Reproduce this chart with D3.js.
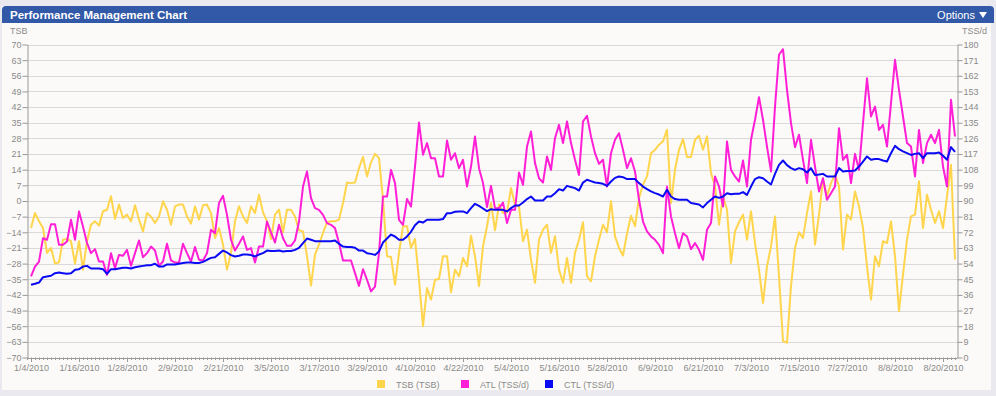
<!DOCTYPE html>
<html>
<head>
<meta charset="utf-8">
<script src="https://cdn.jsdelivr.net/npm/d3@7"></script>
<style>
  html, body { margin: 0; padding: 0; background: #e9e9ef; }
  svg { display: block; font-family: "Liberation Sans", Arial, sans-serif; }
</style>
</head>
<body>
<div class="chart"></div>
<script>
// daily values starting 1/4/2010
var startDay = "2010-01-04";
var tickLabels = ["1/4/2010","1/16/2010","1/28/2010","2/9/2010","2/21/2010","3/5/2010","3/17/2010","3/29/2010","4/10/2010","4/22/2010","5/4/2010","5/16/2010","5/28/2010","6/9/2010","6/21/2010","7/3/2010","7/15/2010","7/27/2010","8/8/2010","8/20/2010"];
var leftTicks = d3.range(-70, 71, 7);
var rightTicks = d3.range(0, 181, 9);

var seriesNames = ["TSB (TSB)", "ATL (TSS/d)", "CTL (TSS/d)"];

var tsb = [-12.1,-5.4,-9.1,-12.1,-23.2,-21.0,-28.0,-27.4,-17.3,-17.0,-18.0,-28.0,-18.0,-30.7,-18.0,-10.6,-9.1,-11.0,-4.6,-3.9,
  2.1,-8.0,-1.6,-7.6,-6.1,-9.1,-1.9,-8.3,-13.6,-5.4,-6.9,-9.8,-6.9,-0.1,-3.9,-10.6,-2.4,-1.6,-1.6,-6.9,
  -10.1,-2.4,-8.3,-1.9,-1.6,-5.4,-16.5,-12.1,-19.5,-30.7,-23.2,-9.1,-2.4,-6.9,-9.8,-2.4,-5.4,2.8,-5.1,-9.1,
  -17.0,-6.1,-3.9,-14.0,-3.9,-3.9,-6.9,-13.1,-13.6,-24.7,-37.8,-24.0,-19.5,-14.3,-9.5,-9.1,-9.1,-8.3,-0.9,8.3,
  8.0,8.3,14.7,19.7,11.0,17.3,21.1,19.2,0.6,-24.7,-25.0,-37.4,-23.2,-11.3,-11.3,-21.0,-17.0,-35.2,-56.0,-38.9,
  -44.1,-35.2,-34.9,-24.7,-24.7,-40.8,-30.7,-33.7,-25.5,-29.2,-15.5,-24.7,-38.1,-20.3,-11.3,-0.9,-13.1,-1.6,-5.4,-5.1,
  5.8,-1.6,-2.4,-18.0,-12.8,-26.2,-36.6,-17.3,-12.8,-10.6,-23.2,-15.8,-30.7,-36.6,-25.5,-36.6,-23.2,-17.3,-9.5,-33.7,
  -35.9,-24.7,-17.3,-10.6,-14.0,-0.1,-15.8,-21.0,-24.4,-14.6,-6.6,-11.3,1.3,7.3,11.0,21.4,22.9,25.2,26.7,31.9,
  -0.9,14.0,22.9,27.7,19.7,19.7,27.4,29.2,22.9,28.9,12.5,6.6,-10.6,2.1,-3.9,-27.7,-13.6,-9.5,-6.1,-17.3,
  -4.6,-18.8,-30.7,-45.6,-29.2,-20.3,-6.9,-33.7,-62.7,-63.4,-38.1,-21.0,-14.0,-16.5,-5.4,4.3,-19.5,-6.1,9.5,2.1,
  8.0,11.8,6.6,-21.7,-6.1,-8.3,4.3,-2.4,-12.1,-29.2,-44.1,-24.7,-29.2,-18.0,-18.8,-9.1,-24.7,-49.3,-32.9,-17.3,
  -6.9,-6.1,8.8,-12.1,2.8,-3.9,-9.8,-4.6,-12.1,2.1,16.2,-26.2];

var atl = [46.6,52.3,55.2,68.6,67.7,76.7,76.7,64.8,64.8,66.7,79.2,67.7,84.0,75.3,65.8,60.0,62.3,55.2,55.2,47.5,
  60.0,51.4,59.0,58.5,61.9,52.7,60.0,67.3,57.7,60.0,63.8,61.5,52.7,55.2,65.4,55.8,54.6,54.6,65.4,60.0,
  55.2,63.5,56.2,55.8,60.0,73.4,71.5,88.8,93.0,82.0,67.7,61.5,65.4,69.6,61.9,62.9,54.6,63.8,63.8,78.2,
  71.9,66.1,76.3,68.6,64.2,64.2,67.3,78.2,98.3,107.0,91.6,85.9,84.9,82.0,77.3,76.3,74.4,65.8,55.8,55.8,
  55.8,48.5,41.2,50.8,44.7,38.0,40.8,60.0,92.6,92.6,107.9,100.3,79.2,76.3,91.1,86.8,109.8,135.1,116.6,123.3,
  114.6,114.6,104.1,104.1,124.8,113.7,117.5,108.9,113.7,98.3,109.8,127.1,108.9,100.3,86.5,98.7,85.9,85.9,89.1,77.3,
  84.9,84.9,106.4,99.3,121.3,130.0,111.8,103.1,100.6,115.6,107.9,126.1,133.8,123.3,135.7,123.3,113.7,105.0,135.7,139.0,
  127.1,117.5,111.4,113.7,98.3,117.5,125.2,129.0,119.4,108.9,114.6,107.0,90.7,78.2,72.5,69.6,67.7,64.8,60.0,98.3,
  81.1,71.5,62.9,71.5,69.6,62.3,65.8,61.9,56.2,73.4,77.3,104.1,98.3,86.8,124.2,107.9,104.1,101.2,113.3,98.3,
  125.2,136.7,149.7,136.7,121.3,107.0,144.3,174.1,177.3,153.9,134.8,121.0,128.1,113.7,100.3,125.2,109.8,95.5,103.1,90.7,
  94.5,98.3,131.9,113.7,116.6,100.3,117.1,107.9,134.8,160.6,138.6,144.3,130.9,133.8,121.3,146.3,171.2,153.9,138.6,123.3,
  121.3,104.1,130.9,111.8,123.3,128.1,123.3,130.9,109.8,98.3,148.2,127.1];

var ctl = [41.8,42.4,43.1,46.2,46.6,47.0,48.5,48.9,48.5,48.1,48.5,50.4,50.8,52.3,52.7,51.2,51.2,51.2,50.8,48.1,
  50.8,50.8,51.2,51.6,51.6,51.2,51.9,52.3,52.7,53.1,53.1,53.9,52.3,52.3,53.5,53.5,53.5,53.9,54.3,54.6,
  54.6,54.3,54.3,55.0,56.2,57.3,57.7,59.6,61.5,60.4,58.9,58.1,58.5,59.2,59.2,58.9,58.1,59.2,60.0,61.5,
  61.2,61.2,61.5,61.0,61.2,61.2,61.9,63.1,65.8,68.4,67.7,66.9,66.9,66.9,66.9,66.9,67.3,65.4,63.8,63.5,
  63.5,63.1,61.5,61.5,60.0,59.6,59.0,61.0,66.1,68.4,70.7,69.6,67.7,67.7,69.6,72.3,76.1,78.2,77.6,79.2,
  79.2,79.2,79.2,79.6,83.0,83.0,83.8,84.0,84.0,83.0,85.9,88.4,87.2,85.7,84.2,85.3,84.9,84.9,84.9,84.0,
  85.9,87.4,87.4,89.1,91.1,92.6,90.3,90.3,90.3,92.6,92.6,94.5,96.8,96.0,98.7,98.0,97.4,96.0,100.6,102.2,
  101.4,100.6,100.3,99.9,98.7,101.2,103.3,104.1,103.7,102.6,102.6,102.6,100.3,98.3,96.8,95.5,94.5,93.7,92.6,96.4,
  92.6,91.1,90.7,90.7,90.7,88.8,88.4,88.0,86.3,88.8,90.7,92.6,91.8,92.6,94.5,93.9,94.1,94.1,95.1,93.5,
  98.3,102.6,103.7,103.1,101.2,99.5,105.6,110.8,113.3,110.6,108.9,107.9,108.9,108.3,106.4,108.9,105.0,105.2,105.6,104.1,
  104.1,104.1,108.9,107.0,107.2,107.3,107.5,109.8,112.7,115.6,113.7,114.1,114.1,113.3,112.7,117.5,121.7,119.8,118.5,117.5,
  116.5,117.1,117.5,114.6,117.5,117.5,117.5,117.9,116.0,113.7,121.0,118.3];

var colors = ["#ffd54d", "#ff1fd6", "#0a0af5"];

var W = 996, H = 396;
var plot = {left: 27, right: 957, top: 44.5, bottom: 357.5};

var parseDay = d3.utcParse("%Y-%m-%d");
var parseTick = d3.utcParse("%m/%d/%Y");
var day0 = parseDay(startDay);
var dayAt = (i) => d3.utcDay.offset(day0, i);

var x = d3.scaleUtc()
  .domain([d3.utcDay.offset(day0, -1), d3.utcHour.offset(d3.utcDay.offset(day0, 231), 12)])
  .range([plot.left, plot.right]);
var yL = d3.scaleLinear().domain([-70, 70]).range([plot.bottom, plot.top]);
var yR = d3.scaleLinear().domain([0, 180]).range([plot.bottom, plot.top]);

var svg = d3.select(".chart").append("svg").attr("width", W).attr("height", H);

// panel + header
svg.append("rect").attr("x", 2).attr("y", 6).attr("width", 989).attr("height", 384).attr("fill", "#fbfaf8");
svg.append("path")
  .attr("d", "M2,23 L2,10 Q2,6 6,6 L990,6 Q994,6 994,10 L994,23 Z")
  .attr("fill", "#3159a7");
svg.append("text").attr("x", 10).attr("y", 19).attr("fill", "#fff")
  .attr("font-size", 11.5).attr("font-weight", "bold").text("Performance Management Chart");
svg.append("text").attr("x", 975).attr("y", 19).attr("fill", "#fff").attr("text-anchor", "end")
  .attr("font-size", 11).text("Options");
svg.append("path").attr("d", "M979,12 L987,12 L983,18 Z").attr("fill", "#fff");

// grid
svg.append("g").selectAll("line").data(leftTicks).enter().append("line")
  .attr("x1", plot.left).attr("x2", plot.right)
  .attr("y1", (d) => Math.round(yL(d)) + 0.5).attr("y2", (d) => Math.round(yL(d)) + 0.5)
  .attr("stroke", "#d9d9d9");

var axisColor = "#999", textColor = "#8a8a8a";

var styleAxis = (g) => {
  g.selectAll(".domain").attr("stroke", axisColor);
  g.selectAll(".tick line").attr("stroke", axisColor);
  g.selectAll("text").attr("fill", textColor).attr("font-size", 9)
    .attr("font-family", "'Liberation Sans', Arial, sans-serif");
};

var gL = svg.append("g").attr("transform", "translate(" + (plot.left + 0.5) + ",0)")
  .call(d3.axisLeft(yL).tickValues(leftTicks).tickSize(5).tickPadding(1).tickSizeOuter(0));
styleAxis(gL);
var gR = svg.append("g").attr("transform", "translate(" + (plot.right + 0.5) + ",0)")
  .call(d3.axisRight(yR).tickValues(rightTicks).tickSize(5).tickPadding(1).tickSizeOuter(0));
styleAxis(gR);

// x axis: daily minor ticks, labelled every 12 days
var minorDays = d3.utcDay.range(d3.utcDay.offset(day0, -1), d3.utcDay.offset(day0, 232));
svg.append("g").selectAll("line").data(minorDays).enter().append("line")
  .attr("x1", (d) => Math.round(x(d)) + 0.5).attr("x2", (d) => Math.round(x(d)) + 0.5)
  .attr("y1", plot.bottom).attr("y2", plot.bottom + 2.5)
  .attr("stroke", axisColor);
var gX = svg.append("g").attr("transform", "translate(0," + (plot.bottom + 0.5) + ")")
  .call(d3.axisBottom(x).tickValues(tickLabels.map(parseTick)).tickSize(4).tickPadding(3)
    .tickSizeOuter(0).tickFormat(d3.utcFormat("%-m/%-d/%Y")));
styleAxis(gX);

// axis titles
svg.append("text").attr("x", 10).attr("y", 34).attr("fill", textColor).attr("font-size", 9).text("TSB");
svg.append("text").attr("x", 962).attr("y", 34).attr("fill", textColor).attr("font-size", 9).text("TSS/d");

// series
var series = [
  {values: tsb, y: yL},
  {values: atl, y: yR},
  {values: ctl, y: yR}
];
var plotG = svg.append("g");
series.forEach((s, k) => {
  var line = d3.line().x((d, i) => x(dayAt(i))).y((d) => s.y(d));
  plotG.append("path").datum(s.values)
    .attr("d", line).attr("fill", "none")
    .attr("stroke", colors[k]).attr("stroke-width", 2).attr("stroke-linejoin", "round");
});

// legend
var legendX = [377, 461, 545];
var legend = svg.append("g").selectAll("g").data(seriesNames).enter().append("g")
  .attr("transform", (d, i) => "translate(" + legendX[i] + ",380)");
legend.append("rect").attr("width", 8).attr("height", 8).attr("fill", (d, i) => colors[i]);
legend.append("text").attr("x", 19).attr("y", 7.5).attr("fill", textColor).attr("font-size", 9).text((d) => d);
</script>
</body>
</html>
